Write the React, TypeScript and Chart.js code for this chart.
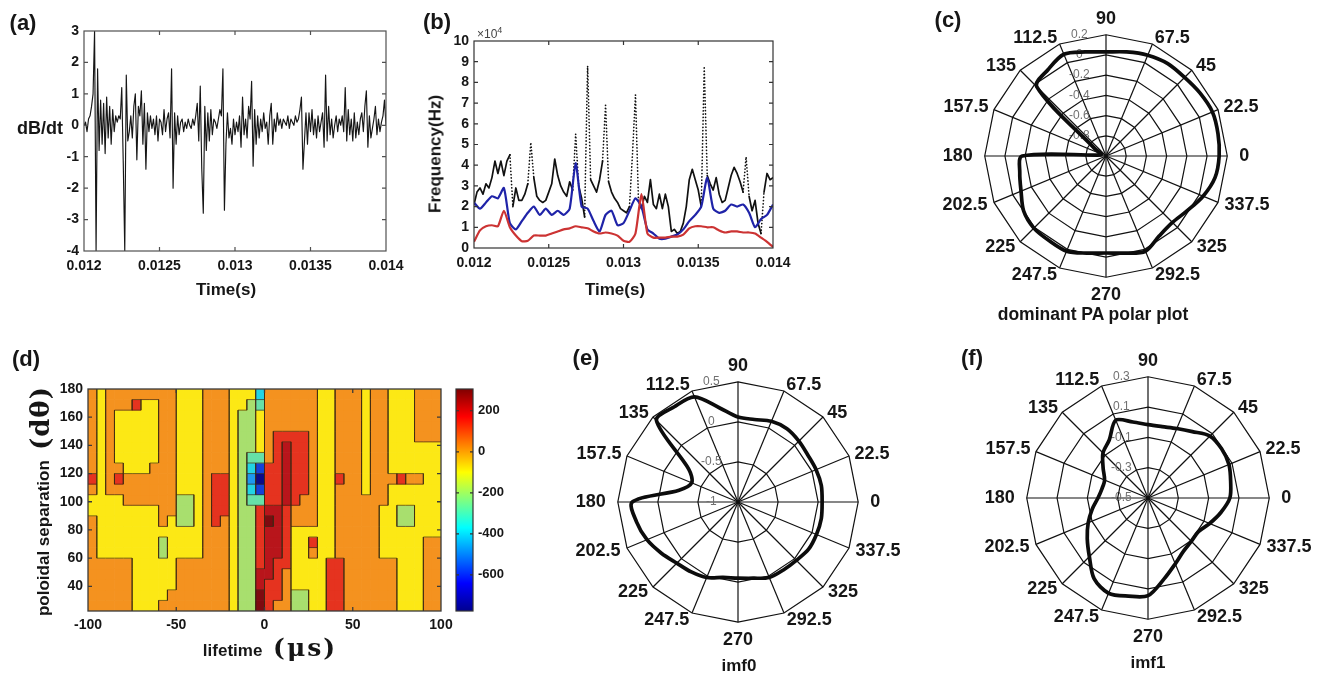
import React, { useEffect, useRef } from 'react';
import { Chart, registerables } from 'chart.js';

Chart.register(...registerables);

const FONT = "'Liberation Sans', Arial, sans-serif";

// ---------------- (a) dB/dt time series ----------------
const aTimeStart = 0.012;
const aTimeStep = 0.00001;
const aDbdt = [
  0.0, 0.1, -0.2, 0.2, 0.3, 0.6, 1.0, 3.0, -4.0, 1.8,
  -0.8, 0.8, -0.6, 0.7, -0.9, 0.9, -0.4, 0.6, -0.6, 0.5,
  -0.2, 0.3, 0.1, 0.3, 0.2, 1.2, -1.2, -4.0, 1.6, -0.5,
  -0.2, 0.3, -0.4, 0.6, 1.0, -1.1, 0.6, 0.3, 1.1, -0.6,
  0.7, -1.4, 0.4, -0.2, 0.3, -0.1, 0.2, -0.3, 0.3, -0.5,
  0.2, 0.1, -0.3, 0.5, -0.2, 0.2, 0.4, -0.4, 1.8, -2.0,
  0.4, -0.6, 0.3, -0.3, 0.1, 0.2, -0.2, 0.1, -0.1, 0.2,
  0.0, -0.1, 0.2, 0.0, 0.3, 0.7, -0.5, 1.25, -1.4, -2.8,
  0.6, -0.8, 0.4, -0.5, 0.5, -0.3, 0.2, 0.1, -0.1, 0.2,
  0.5, 0.3, 1.8, -2.7, -0.6, 0.4, -0.4, -0.1, -0.6, 0.2,
  -0.3, 0.1, -0.2, 0.3, -0.7, 0.9, -0.3, 0.2, -0.4, 0.6,
  0.2, 1.4, -1.3, 0.5, -0.6, 0.3, -0.4, 0.2, -0.2, 0.4,
  -0.1, 0.1, -0.6, 0.3, 0.7, -0.6, 0.2, -0.2, 0.4, 0.0,
  0.2, -0.1, 0.2, 0.1, 0.0, 0.3, -0.1, 0.2, 0.1, 0.0,
  0.3, 0.1, 0.2, 0.5, 0.9, -1.4, -0.5, 0.4, -0.6, 0.4,
  -0.2, 0.5, -0.3, 0.2, -0.4, 0.3, -0.2, 0.1, 0.4, -0.7,
  1.6, -0.5, 0.6, -0.3, 0.2, -0.4, 0.0, 0.3, -0.2, 0.2,
  0.0, 0.3, -0.2, 1.2, -0.5, 0.5, -0.3, 0.2, -0.5, 0.4,
  -0.4, 0.1, -0.3, 0.2, 0.4, -0.2, 0.6, 1.1, -0.7, 0.3,
  -0.4, -0.1, 0.2, 0.6, -0.3, 0.2, -0.2, 0.1, 0.3, 0.8,
  0.0,
];

// ---------------- (b) instantaneous frequency (x1e4 Hz) ----------------
const bTimeStart = 0.012;
const bBlackStep = 0.00002;
const bBlack = [
  2.1, 2.7, 2.9, 2.6, 3.1, 2.9, 3.4, 4.2, 3.6, 4.2,
  3.5, 4.2, 4.5, 2.0, 2.9, 2.3, 2.3, 2.6, 3.1, 5.1,
  3.4, 2.5, 2.3, 2.2, 2.3, 2.7, 3.1, 4.3, 3.5, 3.0,
  2.7, 2.5, 3.2, 2.8, 5.5, 3.0, 2.4, 1.5, 8.8, 3.3,
  3.0, 2.7, 3.3, 4.2, 6.9, 3.2, 2.7, 2.4, 2.2, 1.9,
  1.8, 1.7, 2.0, 4.5, 7.4, 2.3, 1.9, 2.5, 2.2, 3.3,
  2.1, 1.9, 2.6, 1.9, 2.6, 2.0, 0.8, 0.9, 0.7, 0.8,
  1.2, 2.0, 3.3, 3.8, 3.3, 2.8, 2.0, 8.7, 3.5, 3.1,
  2.8, 3.4, 2.6, 2.2, 2.3, 2.9, 3.5, 3.9, 3.6, 3.2,
  2.7, 4.4, 2.5, 1.8, 2.3, 1.2, 0.7, 2.7, 3.6, 3.3,
  3.4,
];
const bColorStep = 0.00004;
const bBlue = [
  2.2, 1.9, 2.2, 2.5, 2.4, 2.9, 1.2, 0.9, 1.3, 1.7,
  2.0, 1.6, 1.9, 1.6, 1.8, 1.6, 1.9, 4.1, 2.0, 1.9,
  1.3, 0.8, 1.6, 1.8, 1.1, 1.2, 1.8, 2.4, 2.0, 0.9,
  0.7, 0.45, 0.45, 0.55, 0.65, 0.9, 1.3, 1.6, 2.0, 3.4,
  1.9, 1.7, 1.8, 2.1, 2.0, 2.1, 1.7, 1.0, 1.4, 1.6,
  2.1,
];
const bRed = [
  0.3, 0.85, 1.05, 1.1, 1.05, 1.8, 1.0, 0.6, 0.33, 0.35,
  0.6, 0.6, 0.6, 0.7, 0.8, 0.9, 0.95, 1.05, 1.0, 0.95,
  0.8, 0.7, 0.75, 0.7, 0.6, 0.35, 0.3, 0.7, 2.6, 0.7,
  0.5, 0.5, 0.5, 0.55, 0.55, 0.65, 0.95, 1.05, 1.05, 1.0,
  1.0, 0.85, 0.75, 0.8, 0.8, 0.75, 0.75, 0.7, 0.5, 0.3,
  0.05,
];

// ---------------- polar plots (c), (e), (f) ----------------
const angleTicks = [0, 22.5, 45, 67.5, 90, 112.5, 135, 157.5, 180, 202.5, 225, 247.5, 270, 292.5, 315, 337.5];
const angleTickLabels = ['0', '22.5', '45', '67.5', '90', '112.5', '135', '157.5', '180', '202.5', '225', '247.5', '270', '292.5', '325', '337.5'];
const polarStep = 11.25; // samples start at 0 deg and go counter-clockwise

const cDominantPA = [
  0.12, 0.13, 0.14, 0.12, 0.10, 0.10, 0.08, 0.05,
  0.03, 0.05, 0.09, 0.03, -0.03, -0.86, -0.95, -0.95,
  -0.17, -0.13, -0.09, -0.02, 0.01, 0.01, 0.02, -0.02,
  -0.04, -0.02, 0.02, -0.05, -0.07, -0.03, 0.04, 0.10,
];
const cRings = [-0.8, -0.6, -0.4, -0.2, 0, 0.2];

const eImf0 = [
  0.05, 0.06, 0.055, 0.05, 0.075, 0.10, 0.09, 0.05,
  0.06, 0.20, 0.42, 0.43, 0.44, -0.26, -0.375, -0.25,
  0.32, 0.29, 0.23, 0.15, 0.08, 0.05, 0.02, -0.04,
  -0.05, -0.03, 0.02, 0.02, 0.03, 0.06, 0.06, 0.06,
];
const eRings = [-0.5, 0, 0.5];

const fImf1 = [
  0.04, 0.056, 0.078, 0.084, 0.078, 0.027, -0.004, -0.02,
  -0.016, 0.011, 0.056, -0.04, -0.08, -0.144, -0.19, -0.19,
  -0.17, -0.125, -0.073, -0.018, 0.047, 0.14, 0.18, 0.16,
  0.144, 0.044, -0.03, -0.078, -0.096, -0.10, -0.06, -0.01,
];
const fRings = [-0.3, -0.1, 0.1, 0.3];

// ---------------- (d) contour map ----------------
const dLifetimeRange = [-100, 100];
const dSeparationRange = [22.5, 180];
const dCodes = 'NBLCgGYORDK';
const dBandValues = [-650, -550, -450, -350, -250, -150, -50, 50, 150, 250, 300];
const dBandColors = ['#0b0b8a', '#1442d8', '#1e97ef', '#22d3e4', '#66e0a8', '#a8df6e', '#fce815', '#f4921f', '#e5331f', '#b8151b', '#7e0a10'];
const dRows = [
  'OYOOOOOOOOYYYOOOYYYCOOOOOOYYOOOYOOYYYOOO',
  'OYOOORYYOOYYYOOOYYGgOOOOOOYYOOOYOOYYYOOO',
  'OYOYYYYYOOYYYOOOYGGYOOOOOOYYOOOYOOYYYOOO',
  'OYOYYYYYOOYYYOOOYGGYOOOOOOYYOOOYOOYYYOOO',
  'OYOYYYYYOOYYYOOOYGGYORRRROYYOOOYOOYYYOOO',
  'OYOYYYYYOOYYYOOOYGGYORDRROYYOOOYOOYYYYYY',
  'OYOYYYYYOOYYYOOOYGggORDRROYYOOOYOOYYYYYY',
  'OYOOYYYOOOYYYOOOYGCBRRDRROYYOOOYOOYYYYYY',
  'RYOROOOOOOYYYORRYGLNRRDRROYYROOYOOOROOYY',
  'OYOOOOOOOOYYYORRYGCBRRDRROYYOOOYOOYYYYYY',
  'YYYYOOOOOOGGYORRYGggRRDROOYYOOOOOOYYYYYY',
  'YYYYYYYYOOGGYORRYGGRDDROOOYYOOOOOYYGGYYY',
  'OYYYYYYYOYGGYOROYGGRKDROOOYYOOOOOYYGGYYY',
  'OYYYYYYYYYYYYOOOYGGRDDRYYYYYOOOOOYYYYYYY',
  'OYYYYYYYGYYYYOOOYGGRDDRYYRYYOOOOOYYYYYOO',
  'OYYYYYYYGYYYYOOOYGGRDDRYYOYYOOOOOYYYYYOO',
  'OOOOOYYYYYOOOOOOYGGRDRRYYYYRROOOOOOYYYOO',
  'OOOOOYYYYYOOOOOOYGGDDROYYYYRROOOOOOYYYOO',
  'OOOOOYYYYYOOOOOOYGGDRROYYYYRROOOOOOYYYOO',
  'OOOOOYYYYOOOOOOOYGGKRROGGYYRROOOOOOYYYOO',
  'OOOOOYYYOOOOOOOOYGGKROOGGYYRROOOOOOYYYOO',
];
const dColorbarRange = [-776, 306];
const jetStops: [number, string][] = [
  [0, '#00008f'], [0.125, '#0000ff'], [0.375, '#00ffff'], [0.625, '#ffff00'], [0.875, '#ff0000'], [1, '#800000'],
];

// ---------------- helpers ----------------
const TXT = '#161616';
const tickFont = (size: number, weight: any = 'bold') => ({ family: FONT, size, weight });
const fmtNum = (v: any) => String(Number(Number(v).toFixed(6)));
const noGrid = { display: false, drawTicks: false };
const noBorder = { display: false };

const framePlugin = {
  id: 'frame',
  afterDraw(chart: any, _args: any, opts: any) {
    const a = chart.chartArea;
    if (!a) return;
    const ctx = chart.ctx;
    ctx.save();
    ctx.strokeStyle = opts.color || '#333';
    ctx.lineWidth = opts.lineWidth || 1;
    ctx.strokeRect(a.left, a.top, a.right - a.left, a.bottom - a.top);
    const len = opts.tickLen || 4;
    ctx.beginPath();
    const xs = opts.xId ? chart.scales[opts.xId] : null;
    const ys = opts.yId ? chart.scales[opts.yId] : null;
    if (xs) {
      xs.ticks.forEach((t: any) => {
        const p = xs.getPixelForValue(t.value);
        if (p <= a.left + 1 || p >= a.right - 1) return;
        ctx.moveTo(p, a.bottom); ctx.lineTo(p, a.bottom - len);
        ctx.moveTo(p, a.top); ctx.lineTo(p, a.top + len);
      });
    }
    if (ys) {
      ys.ticks.forEach((t: any) => {
        const p = ys.getPixelForValue(t.value);
        if (p <= a.top + 1 || p >= a.bottom - 1) return;
        ctx.moveTo(a.left, p); ctx.lineTo(a.left + len, p);
        ctx.moveTo(a.right, p); ctx.lineTo(a.right - len, p);
      });
    }
    ctx.stroke();
    ctx.restore();
  },
};

const baseOpts = {
  responsive: false,
  maintainAspectRatio: false,
  animation: false,
  devicePixelRatio: 1,
  events: [],
};

function configA() {
  const pts = aDbdt.map((y, i) => ({ x: aTimeStart + i * aTimeStep, y }));
  return {
    type: 'line',
    data: {
      datasets: [{ data: pts, borderColor: '#161616', borderWidth: 1.15, pointRadius: 0, tension: 0, borderJoinStyle: 'round' }],
    },
    options: {
      ...baseOpts,
      layout: { padding: { top: 31, right: 34, bottom: 0, left: 0 } },
      plugins: { legend: { display: false }, tooltip: { enabled: false }, frame: { color: '#505050', lineWidth: 1.2, tickLen: 4, xId: 'x', yId: 'y' } },
      scales: {
        x: {
          type: 'linear', min: 0.012, max: 0.014, grid: noGrid, border: noBorder,
          ticks: { stepSize: 0.0005, callback: (v: any) => fmtNum(v), font: tickFont(14), color: TXT, padding: 7, maxRotation: 0, autoSkip: false },
          afterFit: (s: any) => { s.height = 59; },
        },
        y: {
          type: 'linear', min: -4, max: 3, grid: noGrid, border: noBorder,
          ticks: { stepSize: 1, font: tickFont(14), color: TXT, padding: 5 },
          afterFit: (s: any) => { s.width = 84; },
        },
      },
    },
    plugins: [framePlugin],
  };
}

function configB() {
  const black = bBlack.map((y, i) => ({ x: bTimeStart + i * bBlackStep, y }));
  const blue = bBlue.map((y, i) => ({ x: bTimeStart + i * bColorStep, y }));
  const red = bRed.map((y, i) => ({ x: bTimeStart + i * bColorStep, y }));
  return {
    type: 'line',
    data: {
      datasets: [
        { data: red, borderColor: '#cc3333', borderWidth: 2.2, pointRadius: 0, tension: 0.2, order: 0 },
        { data: blue, borderColor: '#1f23a8', borderWidth: 2.2, pointRadius: 0, tension: 0.2, order: 1 },
        {
          data: black, borderColor: '#111111', borderWidth: 1.7, pointRadius: 0, tension: 0, order: 2,
          borderCapStyle: 'round', borderJoinStyle: 'round',
          segment: { borderDash: (ctx: any) => (Math.abs(ctx.p1.parsed.y - ctx.p0.parsed.y) > 1.4 ? [0.1, 3.2] : undefined) },
        },
      ],
    },
    options: {
      ...baseOpts,
      layout: { padding: { top: 41, right: 47, bottom: 0, left: 0 } },
      plugins: { legend: { display: false }, tooltip: { enabled: false }, frame: { color: '#333', lineWidth: 1.2, tickLen: 4, xId: 'x', yId: 'y' } },
      scales: {
        x: {
          type: 'linear', min: 0.012, max: 0.014, grid: noGrid, border: noBorder,
          ticks: { stepSize: 0.0005, callback: (v: any) => fmtNum(v), font: tickFont(14), color: TXT, padding: 7, maxRotation: 0, autoSkip: false },
          afterFit: (s: any) => { s.height = 62; },
        },
        y: {
          type: 'linear', min: 0, max: 10, grid: noGrid, border: noBorder,
          ticks: { stepSize: 1, font: tickFont(14), color: TXT, padding: 5 },
          afterFit: (s: any) => { s.width = 74; },
        },
      },
    },
    plugins: [framePlugin],
  };
}

function radarTheta(k: number) {
  return (((90 - polarStep * k) % 360) + 360) % 360;
}

function polarConfig(vals: number[], min: number, max: number, step: number, rings: number[], hideCenter: boolean) {
  const n = vals.length;
  const labels = vals.map((_, k) => {
    const i = angleTicks.indexOf(radarTheta(k));
    return i >= 0 ? angleTickLabels[i] : '';
  });
  const data = vals.map((_, k) => vals[Math.round(radarTheta(k) / polarStep) % n]);
  const pad = ' '.repeat(16);
  const labelPadding = (k: number) => {
    if (k === 0) return 10; // 90
    if (k === n / 2) return 12; // 270
    if (k === n / 4 || k === (3 * n) / 4) return 6; // 0 and 180
    return k < n / 4 || k > (3 * n) / 4 ? 0 : 1;
  };
  return {
    type: 'radar',
    data: {
      labels,
      datasets: [
        { data, borderColor: '#0c0c0c', borderWidth: 3.7, pointRadius: 0, fill: false, tension: 0.3, borderJoinStyle: 'round', order: 0 },
        ...rings.map((L) => ({
          data: labels.map((_, k) => (k % 2 === 0 ? L : null)),
          spanGaps: true, borderColor: '#111', borderWidth: 1.2, pointRadius: 0, fill: false, tension: 0, order: 1,
        })),
      ],
    },
    options: {
      ...baseOpts,
      plugins: { legend: { display: false }, tooltip: { enabled: false } },
      scales: {
        r: {
          min, max, startAngle: 0, beginAtZero: false,
          grid: { display: false },
          angleLines: {
            display: true,
            color: (ctx: any) => (ctx.index % 2 === 0 ? '#111' : 'rgba(0,0,0,0)'),
            lineWidth: (ctx: any) => (ctx.index % 2 === 0 ? 1.2 : 0),
          },
          ticks: {
            stepSize: step, showLabelBackdrop: false, backdropPadding: 0, color: '#707070',
            font: { family: FONT, size: 12, weight: 'normal' },
            callback: (v: any) => {
              if (hideCenter && Math.abs(v - min) < 1e-9) return '';
              return fmtNum(Number(Number(v).toFixed(2))) + pad;
            },
          },
          pointLabels: {
            display: true, color: TXT,
            font: { family: FONT, size: 18, weight: 'bold', lineHeight: 0.01 },
            padding: (ctx: any) => labelPadding(ctx.index),
          },
        },
      },
    },
  };
}

function configD() {
  const cols = dRows[0].length;
  const nRows = dRows.length;
  const x0 = dLifetimeRange[0];
  const colW = (dLifetimeRange[1] - dLifetimeRange[0]) / cols;
  const rowH = (dSeparationRange[1] - dSeparationRange[0]) / nRows;
  const rowTop = (r: number) => dSeparationRange[1] - rowH * r;
  const labels = Array.from({ length: cols }, (_, c) => String(x0 + colW * (c + 0.5)));
  const datasets: any[] = dRows.map((row, r) => {
    const hi = rowTop(r);
    const lo = hi - rowH;
    const codes = row.split('');
    return {
      type: 'bar',
      data: codes.map(() => [lo, hi]),
      backgroundColor: codes.map((ch) => dBandColors[dCodes.indexOf(ch)]),
      borderWidth: 0,
      xAxisID: 'xc', yAxisID: 'y', grouped: false, barPercentage: 1, categoryPercentage: 1, order: 1,
    };
  });
  // contour boundaries between neighbouring cells of different level
  const edges: any[] = [];
  for (let r = 0; r < nRows; r++) {
    for (let c = 0; c < cols; c++) {
      const ch = dRows[r][c];
      if (c + 1 < cols && dRows[r][c + 1] !== ch) {
        const x = x0 + colW * (c + 1);
        edges.push({ x, y: rowTop(r) }, { x, y: rowTop(r) - rowH }, { x, y: null });
      }
      if (r + 1 < nRows && dRows[r + 1][c] !== ch) {
        const y = rowTop(r) - rowH;
        edges.push({ x: x0 + colW * c, y }, { x: x0 + colW * (c + 1), y }, { x: x0 + colW * (c + 1), y: null });
      }
    }
  }
  datasets.push({
    type: 'line', data: edges, xAxisID: 'x', yAxisID: 'y', spanGaps: false,
    borderColor: 'rgba(60,40,20,0.75)', borderWidth: 0.9, pointRadius: 0, tension: 0, fill: false, order: 0,
  });
  return {
    type: 'bar',
    data: { labels, datasets },
    options: {
      ...baseOpts,
      layout: { padding: { top: 19, right: 19, bottom: 0, left: 0 } },
      plugins: { legend: { display: false }, tooltip: { enabled: false }, frame: { color: '#3a3a3a', lineWidth: 1.3, tickLen: 4, xId: 'x', yId: 'y' } },
      scales: {
        xc: { type: 'category', display: false, offset: true },
        x: {
          type: 'linear', position: 'bottom', offset: false, min: dLifetimeRange[0], max: dLifetimeRange[1], grid: { ...noGrid, offset: false }, border: noBorder,
          ticks: { stepSize: 50, font: tickFont(14), color: TXT, padding: 6, maxRotation: 0 },
          afterFit: (s: any) => { s.height = 39; },
        },
        y: {
          type: 'linear', min: dSeparationRange[0], max: dSeparationRange[1], grid: noGrid, border: noBorder,
          ticks: { stepSize: 20, font: tickFont(14), color: TXT, padding: 5 },
          afterBuildTicks: (s: any) => { s.ticks = s.ticks.filter((t: any) => Math.abs(t.value % 20) < 1e-6); },
          afterFit: (s: any) => { s.width = 88; },
        },
      },
    },
    plugins: [framePlugin],
  };
}

function configColorbar() {
  return {
    type: 'bar',
    data: {
      labels: [''],
      datasets: [{
        data: [dColorbarRange],
        barPercentage: 1, categoryPercentage: 1, borderWidth: 0,
        backgroundColor: (ctx: any) => {
          const area = ctx.chart.chartArea;
          if (!area) return 'rgba(0,0,0,0)';
          const g = ctx.chart.ctx.createLinearGradient(0, area.bottom, 0, area.top);
          jetStops.forEach(([p, c]) => g.addColorStop(p, c));
          return g;
        },
      }],
    },
    options: {
      ...baseOpts,
      layout: { padding: { top: 19, right: 0, bottom: 19, left: 11 } },
      plugins: { legend: { display: false }, tooltip: { enabled: false }, frame: { color: '#333', lineWidth: 1.2, tickLen: 3, xId: null, yId: 'y' } },
      scales: {
        x: { display: false },
        y: {
          position: 'right', min: dColorbarRange[0], max: dColorbarRange[1], grid: noGrid, border: noBorder,
          ticks: { stepSize: 200, font: tickFont(13), color: TXT, padding: 5 },
          afterBuildTicks: (s: any) => { s.ticks = s.ticks.filter((t: any) => Math.abs(t.value % 200) < 1e-6); },
          afterFit: (s: any) => { s.width = 52; },
        },
      },
    },
    plugins: [framePlugin],
  };
}

function ChartCanvas({ left, top, width, height, make, polar }: any) {
  const ref = useRef<HTMLCanvasElement>(null);
  useEffect(() => {
    const canvas = ref.current as HTMLCanvasElement;
    const chart: any = new Chart(canvas as any, make());
    if (polar) {
      // size the canvas so the polar grid gets the wanted radius, then centre it where the reference has it
      let w = width;
      for (let i = 0; i < 6; i++) {
        const s = chart.scales.r;
        const diff = polar.radius - s.drawingArea;
        if (Math.abs(diff) < 0.3) break;
        w = Math.round(w + diff * 1.85);
        canvas.style.width = `${w}px`;
        chart.resize(w, height);
      }
      const s = chart.scales.r;
      canvas.style.left = `${polar.cx - s.xCenter}px`;
      canvas.style.top = `${polar.cy - s.yCenter}px`;
    }
    return () => chart.destroy();
  }, []);
  return <canvas ref={ref} width={width} height={height} style={{ position: 'absolute', left, top, width, height }} />;
}

function Txt({ x, y, size = 17, weight = 'bold', rotate = 0, family = FONT, color = TXT, children }: any) {
  return (
    <div
      style={{
        position: 'absolute', left: x, top: y, transform: `translate(-50%, -50%) rotate(${rotate}deg)`,
        fontFamily: family, fontSize: size, fontWeight: weight, color, whiteSpace: 'nowrap', lineHeight: 1,
      }}
    >
      {children}
    </div>
  );
}

export default function App() {
  return (
    <div style={{ position: 'fixed', left: 0, top: 0, width: 1322, height: 680, overflow: 'hidden', background: '#fff' }}>
      <ChartCanvas left={0} top={0} width={420} height={310} make={configA} />
      <ChartCanvas left={400} top={0} width={420} height={310} make={configB} />
      <ChartCanvas left={0} top={370} width={460} height={280} make={configD} />
      <ChartCanvas left={445} top={370} width={80} height={260} make={configColorbar} />
      <ChartCanvas left={946} top={-50} width={330} height={440} polar={{ cx: 1106, cy: 156, radius: 121 }}
        make={() => polarConfig(cDominantPA, -1, 0.2, 0.2, cRings, true)} />
      <ChartCanvas left={578} top={296} width={330} height={440} polar={{ cx: 738, cy: 502, radius: 120 }}
        make={() => polarConfig(eImf0, -1, 0.5, 0.5, eRings, false)} />
      <ChartCanvas left={988} top={292} width={330} height={440} polar={{ cx: 1148, cy: 498, radius: 121 }}
        make={() => polarConfig(fImf1, -0.5, 0.3, 0.2, fRings, false)} />

      <Txt x={23} y={23} size={22}>(a)</Txt>
      <Txt x={40} y={128} size={18}>dB/dt</Txt>
      <Txt x={226} y={289}>Time(s)</Txt>

      <Txt x={437} y={22} size={22}>(b)</Txt>
      <div style={{ position: 'absolute', left: 477, top: 26, fontFamily: FONT, fontSize: 12, color: '#444', whiteSpace: 'nowrap', lineHeight: 1 }}>
        ×10<sup style={{ fontSize: 9 }}>4</sup>
      </div>
      <Txt x={435} y={154} rotate={-90}>Frequency(Hz)</Txt>
      <Txt x={615} y={289}>Time(s)</Txt>

      <Txt x={948} y={20} size={22}>(c)</Txt>
      <Txt x={1093} y={315} size={17.5}>dominant PA polar plot</Txt>

      <Txt x={26} y={359} size={22}>(d)</Txt>
      <Txt x={40} y={501} rotate={-90}>
        poloidal separation<span style={{ fontFamily: "'DejaVu Serif', serif", fontSize: 26, letterSpacing: 1 }}> (dθ)</span>
      </Txt>
      <Txt x={270} y={647}>
        lifetime<span style={{ fontFamily: "'DejaVu Serif', serif", fontSize: 25, letterSpacing: 2 }}> (μs)</span>
      </Txt>

      <Txt x={586} y={358} size={22}>(e)</Txt>
      <Txt x={739} y={665}>imf0</Txt>

      <Txt x={972} y={358} size={22}>(f)</Txt>
      <Txt x={1148} y={662}>imf1</Txt>
    </div>
  );
}
